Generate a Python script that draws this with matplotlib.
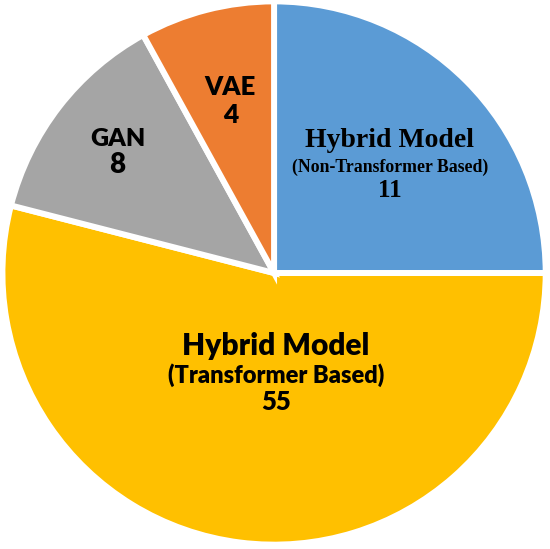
import matplotlib
matplotlib.use("Agg")
import matplotlib.pyplot as plt

categories = ["Hybrid Model (Non-Transformer Based)", "Hybrid Model (Transformer Based)", "GAN", "VAE"]
shares = [25, 54, 13, 8]
counts = [11, 55, 8, 4]
colors = ["#5B9BD5", "#FFC000", "#A5A5A5", "#ED7D31"]

fig = plt.figure(figsize=(5.5, 5.49), dpi=100)
ax = fig.add_axes([0, 0, 1, 1])

ax.pie(shares, colors=colors, startangle=90, counterclock=False, radius=1.01,
       wedgeprops=dict(edgecolor="white", linewidth=4.3))

ax.set_xlim(-1.019, 1.026)
ax.set_ylim(-1.026, 1.015)
ax.set_aspect("equal")
ax.axis("off")

sans = "Lato"
serif = "Liberation Serif"

# label lines: (text, x, baseline y, size, family)
labels = [
    [("Hybrid Model", 0.431, 0.468, 20, serif),
     ("(Non-Transformer Based)", 0.431, 0.375, 12.8, serif),
     (str(counts[0]), 0.431, 0.283, 18, serif)],
    [("Hybrid Model", 0.007, -0.305, 21.5, sans),
     ("(Transformer Based)", 0.007, -0.409, 17, sans),
     (str(counts[1]), 0.007, -0.509, 18.5, sans)],
    [("GAN", -0.582, 0.472, 18, sans),
     (str(counts[2]), -0.582, 0.372, 20, sans)],
    [("VAE", -0.164, 0.662, 18.5, sans),
     (str(counts[3]), -0.160, 0.558, 19, sans)],
]

for block in labels:
    for txt, x, y, size, fam in block:
        w = "bold" if fam == serif else "heavy"
        ax.text(x, y, txt, ha="center", va="baseline", fontsize=size,
                fontweight=w, family=fam, color="black")

fig.savefig("out.png", dpi=100)
